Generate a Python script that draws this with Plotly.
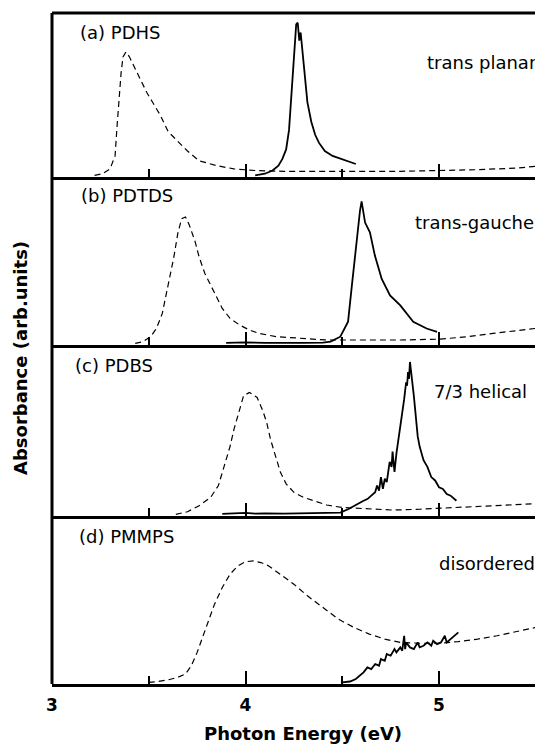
import plotly.graph_objects as go
from plotly.subplots import make_subplots

# ---------------- data (photon energy in eV, absorbance in arb. units) -------------
# (a) PDHS
a_dash_E = [3.22, 3.26, 3.30, 3.326, 3.336, 3.346, 3.357, 3.367, 3.382, 3.40, 3.44, 3.49, 3.52, 3.56,
            3.60, 3.65, 3.70, 3.76, 3.85, 3.94, 4.05, 4.2, 4.4, 4.6, 4.8, 5.0, 5.2, 5.4, 5.54]
a_dash_A = [0.0, 0.01, 0.04, 0.12, 0.30, 0.47, 0.63, 0.73, 0.76, 0.73, 0.63, 0.51, 0.45, 0.37,
            0.27, 0.21, 0.15, 0.09, 0.06, 0.04, 0.03, 0.025, 0.025, 0.025, 0.025, 0.03, 0.035, 0.045, 0.06]
a_sol_E = [4.05, 4.10, 4.14, 4.17, 4.19, 4.21, 4.225, 4.235, 4.245, 4.255, 4.262, 4.27, 4.278, 4.285,
           4.292, 4.30, 4.31, 4.32, 4.34, 4.36, 4.38, 4.41, 4.45, 4.50, 4.54, 4.57]
a_sol_A = [0.0, 0.01, 0.03, 0.06, 0.10, 0.16, 0.28, 0.45, 0.64, 0.82, 0.93, 0.94, 0.83, 0.88,
           0.80, 0.68, 0.55, 0.45, 0.33, 0.25, 0.20, 0.15, 0.12, 0.10, 0.08, 0.07]

# (b) PDTDS
b_dash_E = [3.43, 3.47, 3.51, 3.54, 3.57, 3.59, 3.61, 3.63, 3.65, 3.67, 3.69, 3.71, 3.74, 3.76, 3.79,
            3.82, 3.85, 3.88, 3.92, 3.97, 4.02, 4.07, 4.16, 4.3, 4.42, 4.6, 4.8, 5.0, 5.15, 5.28, 5.4, 5.54]
b_dash_A = [0.0, 0.01, 0.04, 0.09, 0.18, 0.29, 0.41, 0.52, 0.66, 0.75, 0.76, 0.71, 0.61, 0.52, 0.42,
            0.35, 0.28, 0.21, 0.15, 0.11, 0.08, 0.06, 0.04, 0.03, 0.02, 0.02, 0.02, 0.025, 0.04, 0.06, 0.075, 0.095]
b_sol_E = [3.90, 4.0, 4.1, 4.2, 4.3, 4.4, 4.44, 4.49, 4.53, 4.55, 4.575, 4.592, 4.60, 4.61, 4.618,
           4.643, 4.669, 4.704, 4.747, 4.80, 4.867, 4.936, 4.99]
b_sol_A = [0.003, 0.006, 0.003, 0.005, 0.003, 0.004, 0.01, 0.04, 0.13, 0.35, 0.645, 0.80, 0.853, 0.78, 0.726,
           0.667, 0.526, 0.387, 0.288, 0.228, 0.129, 0.089, 0.069]

# (c) PDBS
c_dash_E = [3.64, 3.70, 3.76, 3.82, 3.86, 3.88, 3.90, 3.92, 3.94, 3.96, 3.99, 4.02, 4.06, 4.09, 4.11,
            4.13, 4.16, 4.18, 4.21, 4.25, 4.30, 4.35, 4.42, 4.50, 4.65, 4.76, 4.9, 4.99, 5.15, 5.28, 5.4, 5.54]
c_dash_A = [0.0, 0.015, 0.05, 0.10, 0.17, 0.25, 0.33, 0.40, 0.50, 0.58, 0.70, 0.72, 0.69, 0.61, 0.54,
            0.44, 0.33, 0.25, 0.18, 0.13, 0.10, 0.08, 0.055, 0.04, 0.03, 0.025, 0.03, 0.035, 0.045, 0.05, 0.058, 0.065]
c_sol_E = [3.88, 3.95, 4.0, 4.05, 4.1, 4.2, 4.3, 4.4, 4.49, 4.53, 4.56, 4.59, 4.61, 4.63, 4.65, 4.67,
           4.68, 4.69, 4.70, 4.71, 4.72, 4.73, 4.745, 4.755, 4.76, 4.77, 4.78, 4.79, 4.80, 4.81, 4.82,
           4.83, 4.835, 4.84, 4.845, 4.85, 4.855, 4.86, 4.87, 4.88, 4.89, 4.90, 4.92, 4.94, 4.96, 4.98,
           5.0, 5.02, 5.04, 5.06, 5.08, 5.09]
c_sol_A = [0.003, 0.006, 0.008, 0.004, 0.006, 0.004, 0.006, 0.006, 0.01, 0.03, 0.05, 0.065, 0.08, 0.09,
           0.11, 0.13, 0.17, 0.14, 0.22, 0.15, 0.21, 0.19, 0.31, 0.28, 0.37, 0.25, 0.36, 0.44, 0.50,
           0.60, 0.68, 0.78, 0.76, 0.84, 0.80, 0.90, 0.82, 0.80, 0.70, 0.58, 0.46, 0.40, 0.32, 0.28,
           0.22, 0.20, 0.16, 0.15, 0.12, 0.11, 0.09, 0.08]

# (d) PMMPS
d_dash_E = [3.50, 3.55, 3.60, 3.65, 3.69, 3.72, 3.75, 3.78, 3.81, 3.84, 3.88, 3.92, 3.96, 4.00, 4.04,
            4.08, 4.12, 4.18, 4.25, 4.32, 4.40, 4.48, 4.56, 4.64, 4.72, 4.80, 4.90, 5.0, 5.1, 5.2, 5.3,
            5.42, 5.54]
d_dash_A = [0.0, 0.005, 0.015, 0.03, 0.05, 0.10, 0.18, 0.28, 0.38, 0.47, 0.57, 0.65, 0.70, 0.725, 0.73,
            0.72, 0.70, 0.65, 0.59, 0.52, 0.45, 0.38, 0.33, 0.29, 0.26, 0.24, 0.235, 0.235, 0.245, 0.26,
            0.28, 0.31, 0.34]
d_sol_E = [4.50, 4.54, 4.57, 4.59, 4.61, 4.63, 4.65, 4.67, 4.69, 4.70, 4.72, 4.73, 4.75, 4.77, 4.78,
           4.80, 4.81, 4.82, 4.825, 4.83, 4.85, 4.87, 4.89, 4.90, 4.92, 4.94, 4.96, 4.97, 4.99, 5.01,
           5.03, 5.04, 5.06, 5.08, 5.10]
d_sol_A = [0.0, 0.005, 0.02, 0.04, 0.06, 0.09, 0.08, 0.11, 0.10, 0.14, 0.13, 0.17, 0.16, 0.20, 0.18,
           0.21, 0.19, 0.28, 0.20, 0.24, 0.21, 0.20, 0.24, 0.21, 0.22, 0.24, 0.22, 0.25, 0.23, 0.24,
           0.28, 0.24, 0.26, 0.28, 0.30]

panel_labels = ["(a) PDHS", "(b) PDTDS", "(c) PDBS", "(d) PMMPS"]
conformations = ["trans planar", "trans-gauche", "7/3 helical", "disordered"]
x_ticks = [3, 4, 5]
x_minor = [3.5, 4.5, 5.5]
x_title = "Photon Energy (eV)"
y_title = "Absorbance (arb.units)"

panels = [
    (a_dash_E, a_dash_A, a_sol_E, a_sol_A),
    (b_dash_E, b_dash_A, b_sol_E, b_sol_A),
    (c_dash_E, c_dash_A, c_sol_E, c_sol_A),
    (d_dash_E, d_dash_A, d_sol_E, d_sol_A),
]

# ---------------- figure ----------------
OFF = 8                      # default page body margin
W, H = 543 - OFF, 745 - OFF
ML, MR, MT, MB = 52 - OFF, 0, 13 - OFF, 61
PW, PH = W - ML - MR, H - MT - MB

fig = make_subplots(rows=4, cols=1, shared_xaxes=True, vertical_spacing=0,
                    row_heights=[164, 168, 171, 168])

for i, (dE, dA, sE, sA) in enumerate(panels):
    r = i + 1
    fig.add_trace(go.Scatter(x=dE, y=dA, mode="lines", showlegend=False,
                             line=dict(color="black", width=1.2, dash="6px,4px")), row=r, col=1)
    fig.add_trace(go.Scatter(x=sE, y=sA, mode="lines", showlegend=False,
                             line=dict(color="black", width=1.8)), row=r, col=1)
    fig.update_yaxes(range=[-0.01, 1.0], showticklabels=False, ticks="", showgrid=False,
                     zeroline=False, showline=False, row=r, col=1)
    fig.update_xaxes(range=[3, 3 + PW / 193.5], showgrid=False, zeroline=False,
                     showline=True, linecolor="black", linewidth=2.5,
                     tickmode="array", tickvals=x_ticks, ticktext=[str(t) for t in x_ticks],
                     ticks="inside", ticklen=13, tickwidth=2, tickcolor="black",
                     minor=dict(tickmode="array", tickvals=x_minor, ticks="inside",
                                ticklen=8, tickwidth=2, tickcolor="black"),
                     showticklabels=(r == 4), row=r, col=1)

fig.update_xaxes(tickfont=dict(family="DejaVu Sans", size=17, color="black", weight="bold"),
                 ticklabelstandoff=4, row=4, col=1)

# frame: left and top lines
fig.add_shape(type="line", xref="paper", yref="paper", x0=0, x1=0, y0=0, y1=1,
              line=dict(color="black", width=3))
fig.add_shape(type="line", xref="paper", yref="paper", x0=0, x1=1, y0=1, y1=1,
              line=dict(color="black", width=3))


def px(x):
    return (x - 52) / PW


def py(y):
    return (684 - y) / PH


label_pos = [(78, 32), (79, 195), (73, 365), (77, 536)]
conf_pos = [(425, 62), (413, 222), (432, 392), (437, 563)]
for lab, (x, y) in zip(panel_labels, label_pos):
    fig.add_annotation(text=lab, xref="paper", yref="paper", x=px(x), y=py(y),
                       xanchor="left", yanchor="middle", showarrow=False,
                       font=dict(family="DejaVu Sans", size=18, color="black"))
for lab, (x, y) in zip(conformations, conf_pos):
    fig.add_annotation(text=lab, xref="paper", yref="paper", x=px(x), y=py(y),
                       xanchor="left", yanchor="middle", showarrow=False,
                       font=dict(family="DejaVu Sans", size=18, color="black"))

fig.add_annotation(text=x_title, xref="paper", yref="paper", x=px(303), y=py(734),
                   xanchor="center", yanchor="middle", showarrow=False,
                   font=dict(family="DejaVu Sans", size=18, color="black", weight="bold"))
fig.add_annotation(text=y_title, xref="paper", yref="paper", x=px(20), y=py(358),
                   xanchor="center", yanchor="middle", showarrow=False, textangle=-90,
                   font=dict(family="DejaVu Sans", size=18, color="black", weight="bold"))

fig.update_layout(width=W, height=H, margin=dict(l=ML, r=MR, t=MT, b=MB),
                  paper_bgcolor="white", plot_bgcolor="white")

fig.write_html("out.html")
